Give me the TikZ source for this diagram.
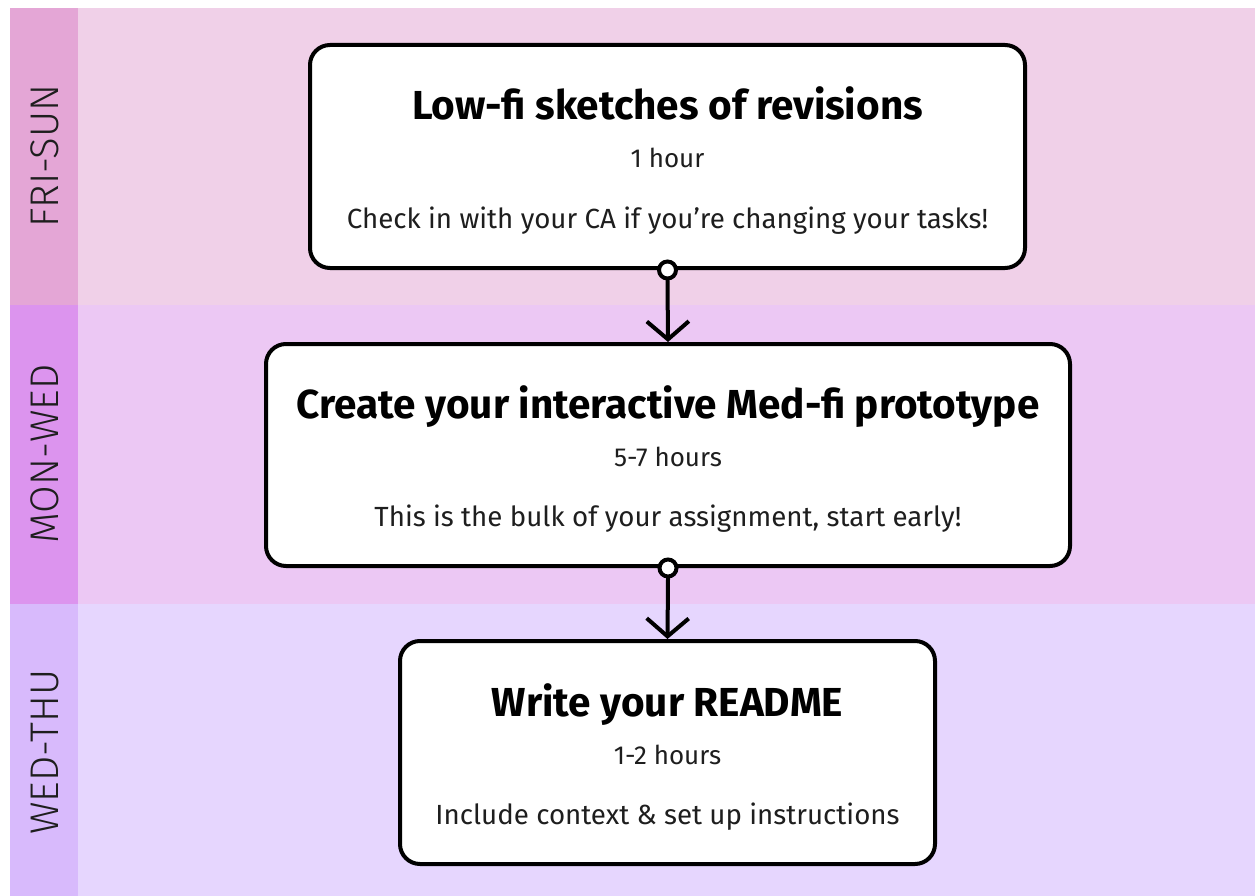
\documentclass[tikz,border=0pt]{standalone}
\usepackage{fontspec}
\setmainfont{Fira Sans}
\newfontfamily\lanefont{Fira Sans Light}
\usetikzlibrary{arrows.meta}
\definecolor{bandA}{HTML}{F0D0E8}
\definecolor{labA}{HTML}{E4A6D6}
\definecolor{bandB}{HTML}{ECC8F4}
\definecolor{labB}{HTML}{DC94EE}
\definecolor{bandC}{HTML}{E6D6FE}
\definecolor{labC}{HTML}{D8BAFC}
\definecolor{ink}{HTML}{1E1E1E}
\tikzset{
  card/.style={draw=black, line width=4pt, fill=white, rounded corners=20pt, inner sep=0pt},
  ttl/.style={anchor=base, font=\fontsize{40.5}{46}\selectfont\bfseries, text=black, inner sep=0pt},
  sub/.style={anchor=base, font=\fontsize{26}{30}\selectfont, text=ink, inner sep=0pt},
  note/.style={anchor=base, font=\fontsize{27.7}{32}\selectfont, text=ink, inner sep=0pt},
  lane/.style={anchor=center, rotate=90, font=\lanefont\fontsize{40}{44}\selectfont, text=ink, inner sep=0pt},
  link/.style={line width=4pt, line cap=round, line join=round, -{Straight Barb[length=18pt,width=42pt,line width=4pt]}},
  dot/.style={circle, draw=black, line width=4pt, fill=white, minimum size=17pt, inner sep=0pt}
}
\begin{document}
\begin{tikzpicture}[x=1pt,y=-1pt]
\useasboundingbox (0,0) rectangle (1255,896);
% bands
\fill[bandA] (10,8) rectangle (1255,305);
\fill[labA] (10,8) rectangle (78,305);
\fill[bandB] (10,305) rectangle (1255,604);
\fill[labB] (10,305) rectangle (78,604);
\fill[bandC] (10,604) rectangle (1255,896);
\fill[labC] (10,604) rectangle (78,896);
\node[lane] (l1) at (45,156) {FRI-SUN};
\node[lane] (l2) at (45,454) {MON-WED};
\node[lane] (l3) at (45,752) {WED-THU};
% cards
\node[card, minimum width=715pt, minimum height=223pt] (b1) at (667.5,156.5) {};
\node[card, minimum width=804pt, minimum height=222pt] (b2) at (668,455) {};
\node[card, minimum width=535pt, minimum height=223pt] (b3) at (667.5,752.5) {};
\node[ttl] (t1) at (667.5,120) {Low-fi sketches of revisions};
\node[sub] (s1) at (667.5,168) {1 hour};
\node[note] (n1) at (667.5,228) {Check in with your CA if you’re changing your tasks!};
\node[ttl] (t2) at (668,418) {Create your interactive Med-fi prototype};
\node[sub] (s2) at (668,466) {5-7 hours};
\node[note] (n2) at (668,526) {This is the bulk of your assignment, start early!};
\node[ttl] (t3) at (667.5,716) {Write your README};
\node[sub] (s3) at (667.5,764) {1-2 hours};
\node[note] (n3) at (667.5,824) {Include context \& set up instructions};
% connectors
\node[dot] (d1) at (b1.south) {};
\draw[link] (d1.south) -- (b2.north);
\node[dot] (d2) at (b2.south) {};
\draw[link] (d2.south) -- (b3.north);
\end{tikzpicture}
\end{document}
